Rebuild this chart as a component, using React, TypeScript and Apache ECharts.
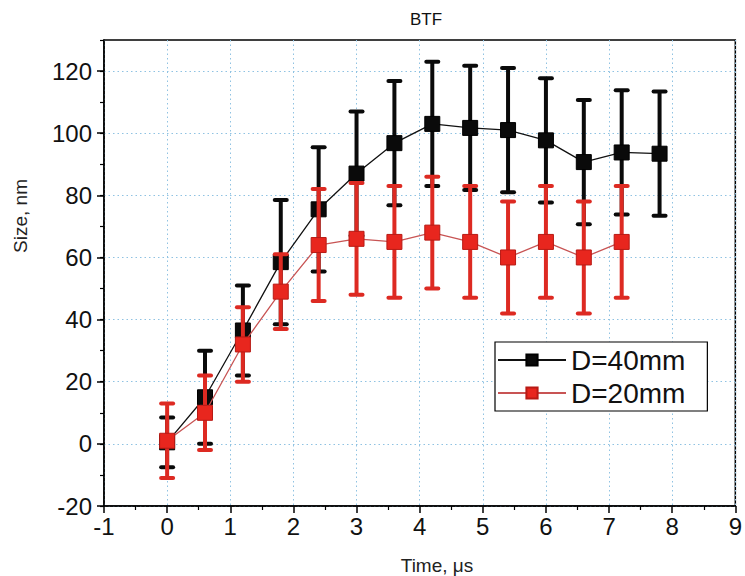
import React, { useEffect, useRef } from "react";
import * as echarts from "echarts";

const timeBlack = [0, 0.6, 1.2, 1.8, 2.4, 3.0, 3.6, 4.2, 4.8, 5.4, 6.0, 6.6, 7.2, 7.8];
const sizeBlack = [0.5, 15, 36.5, 58.5, 75.5, 87, 96.8, 103, 101.7, 101, 97.7, 90.7, 93.8, 93.4];
const errBlack = [8, 15, 14.5, 20, 20, 20, 20, 20, 20, 20, 20, 20, 20, 20];

const timeRed = [0, 0.6, 1.2, 1.8, 2.4, 3.0, 3.6, 4.2, 4.8, 5.4, 6.0, 6.6, 7.2];
const sizeRed = [1, 10, 32, 49, 64, 66, 65, 68, 65, 60, 65, 60, 65];
const errRed = [12, 12, 12, 12, 18, 18, 18, 18, 18, 18, 18, 18, 18];

const yMajorTicks = [-20, 0, 20, 40, 60, 80, 100, 120];
const seriesNames = ["D=40mm", "D=20mm"];

const FONT = "'Liberation Sans', Arial, Helvetica, sans-serif";

const makeErr = (color: string) => (params: any, api: any) => {
  const x = api.value(0);
  const y = api.value(1);
  const e = api.value(2);
  const t = api.coord([x, y + e]);
  const b = api.coord([x, y - e]);
  const w = 6;
  const capStyle = { stroke: color, lineWidth: 4, lineCap: "round" };
  return {
    type: "group",
    children: [
      { type: "line", shape: { x1: t[0], y1: t[1], x2: b[0], y2: b[1] }, style: { stroke: color, lineWidth: 4 } },
      { type: "line", shape: { x1: t[0] - w, y1: t[1], x2: t[0] + w, y2: t[1] }, style: capStyle },
      { type: "line", shape: { x1: b[0] - w, y1: b[1], x2: b[0] + w, y2: b[1] }, style: capStyle },
    ],
  };
};

export default function App() {
  const ref = useRef<HTMLDivElement>(null);
  useEffect(() => {
    if (!ref.current) return;
    const chart = echarts.init(ref.current, null, { renderer: "svg" });
    const blackPts = timeBlack.map((t, i) => [t, sizeBlack[i]]);
    const redPts = timeRed.map((t, i) => [t, sizeRed[i]]);
    const blackErr = timeBlack.map((t, i) => [t, sizeBlack[i], errBlack[i]]);
    const redErr = timeRed.map((t, i) => [t, sizeRed[i], errRed[i]]);
    const gridLine = { show: true, lineStyle: { color: "#8fc2e2", type: [1.5, 3], width: 1 } };
    const option: any = {
      animation: false,
      backgroundColor: "#fff",
      title: {
        text: "BTF",
        left: 421,
        top: 6,
        textAlign: "center",
        textStyle: { fontSize: 17, fontWeight: "normal", color: "#111", fontFamily: FONT },
      },
      grid: {
        left: 104,
        right: 7,
        top: 40,
        bottom: 70,
        show: true,
        borderColor: "#000",
        borderWidth: 1.5,
        backgroundColor: "transparent",
      },
      legend: {
        data: seriesNames,
        orient: "vertical",
        left: 495,
        top: 342,
        padding: [4, 22, 4, 2],
        itemGap: 5,
        itemWidth: 68,
        itemHeight: 14,
        borderColor: "#000",
        borderWidth: 1.2,
        backgroundColor: "#fff",
        selectedMode: false,
        textStyle: { fontSize: 28, color: "#111", fontFamily: FONT },
      },
      xAxis: {
        type: "value",
        min: -1,
        max: 9,
        interval: 1,
        axisLine: { show: true, onZero: false, lineStyle: { color: "#000", width: 1.5 } },
        axisTick: { show: true, length: 7, lineStyle: { color: "#000", width: 1.5 } },
        minorTick: { show: true, splitNumber: 2, length: 4, lineStyle: { color: "#000", width: 1.2 } },
        axisLabel: { fontSize: 24, color: "#111", margin: 8, fontFamily: FONT },
        splitLine: gridLine,
      },
      yAxis: [
        {
          type: "value",
          min: -20,
          max: 130,
          interval: 20,
          axisLine: { show: true, onZero: false, lineStyle: { color: "#000", width: 1.5 } },
          axisTick: { show: true, length: 7, customValues: yMajorTicks, lineStyle: { color: "#000", width: 1.5 } },
          axisLabel: {
            fontSize: 24,
            color: "#111",
            margin: 12,
            fontFamily: FONT,
            customValues: yMajorTicks,
            formatter: (v: number) => (v > 120 ? "" : String(v)),
          },
          splitLine: gridLine,
        },
        {
          type: "value",
          min: -20,
          max: 130,
          interval: 10,
          position: "left",
          axisLine: { show: false, onZero: false },
          axisTick: { show: true, length: 4, lineStyle: { color: "#000", width: 1.2 } },
          axisLabel: { show: false },
          splitLine: { show: false },
        },
      ],
      graphic: [
        {
          type: "text",
          x: 20,
          y: 216,
          rotation: Math.PI / 2,
          style: { text: "Size, nm", fontSize: 19, fill: "#222", fontFamily: FONT, align: "center", verticalAlign: "middle" },
        },
        {
          type: "text",
          x: 437,
          y: 565,
          style: { text: "Time, \u03bcs", fontSize: 19, fill: "#222", fontFamily: FONT, align: "center", verticalAlign: "middle" },
        },
      ],
      series: [
        {
          name: "err40",
          type: "custom",
          renderItem: makeErr("#0a0a0a"),
          data: blackErr,
          encode: { x: 0, y: 1 },
          z: 2,
          silent: true,
        },
        {
          name: seriesNames[0],
          type: "line",
          data: blackPts,
          symbol: "rect",
          symbolSize: 15,
          itemStyle: { color: "#0a0a0a", borderColor: "#000", borderWidth: 1 },
          lineStyle: { color: "#111", width: 1.3 },
          z: 3,
          silent: true,
        },
        {
          name: "err20",
          type: "custom",
          renderItem: makeErr("#dd2a22"),
          data: redErr,
          encode: { x: 0, y: 1 },
          z: 4,
          silent: true,
        },
        {
          name: seriesNames[1],
          type: "line",
          data: redPts,
          symbol: "rect",
          symbolSize: 15,
          itemStyle: { color: "#e8261e", borderColor: "#b81a14", borderWidth: 1 },
          lineStyle: { color: "#c85454", width: 1.3 },
          z: 5,
          silent: true,
        },
      ],
    };
    chart.setOption(option);
    return () => chart.dispose();
  }, []);
  return <div ref={ref} style={{ position: "fixed", left: 0, top: 0, width: 745, height: 576 }} />;
}
